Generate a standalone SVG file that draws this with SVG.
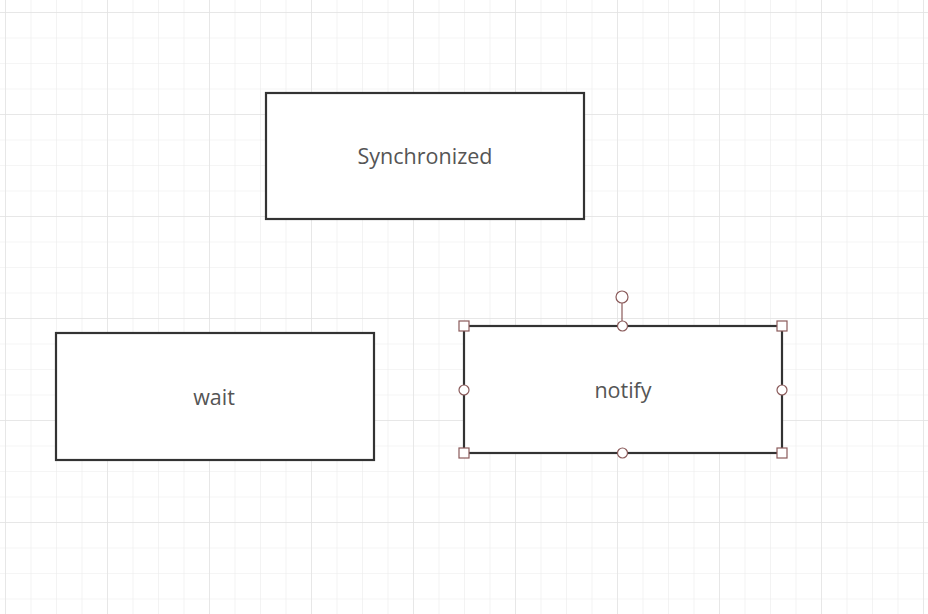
<svg xmlns="http://www.w3.org/2000/svg" width="928" height="614" viewBox="0 0 928 614">
<defs>
<pattern id="g" x="5" y="12" width="25.5" height="25.5" patternUnits="userSpaceOnUse">
<path d="M0 0H25.5M0 0V25.5" stroke="#ebebeb" stroke-width="1.2" fill="none"/>
</pattern>
<pattern id="G" x="5" y="12" width="102" height="102" patternUnits="userSpaceOnUse">
<path d="M0 0H102M0 0V102" stroke="#e2e2e2" stroke-width="1.4" fill="none"/>
</pattern>
</defs>
<style>
.box{fill:#fff;stroke:#333;stroke-width:2.2}
.t{font-family:"Open Sans","Liberation Sans",sans-serif;font-size:21.5px;fill:#555;text-anchor:middle}
.h{fill:#fff;stroke:#8a5a5a;stroke-width:1.2}
</style>
<rect width="928" height="614" fill="#fff"/>
<rect width="928" height="614" fill="url(#g)"/>
<rect width="928" height="614" fill="url(#G)"/>
<g id="synchronized"><rect class="box" x="266" y="93" width="318" height="126"/><text class="t" x="425" y="164">Synchronized</text></g>
<g id="wait"><rect class="box" x="56" y="333" width="318" height="127"/><text class="t" x="214" y="405">wait</text></g>
<g id="notify"><rect class="box" x="464" y="326" width="318" height="127" stroke="#3a2f2f"/><text class="t" x="623" y="398">notify</text>
<line x1="622" y1="303" x2="622" y2="326" stroke="#8a5a5a" stroke-width="1.2"/>
<circle class="h" cx="622" cy="297" r="6"/>
<circle class="h" cx="622.5" cy="326" r="5"/><circle class="h" cx="622.5" cy="453" r="5"/>
<circle class="h" cx="464" cy="390" r="5"/><circle class="h" cx="782" cy="390" r="5"/>
<rect class="h" x="459" y="321" width="10" height="10"/><rect class="h" x="777" y="321" width="10" height="10"/>
<rect class="h" x="459" y="448" width="10" height="10"/><rect class="h" x="777" y="448" width="10" height="10"/>
</g>
<g id="connectors"/>
</svg>
